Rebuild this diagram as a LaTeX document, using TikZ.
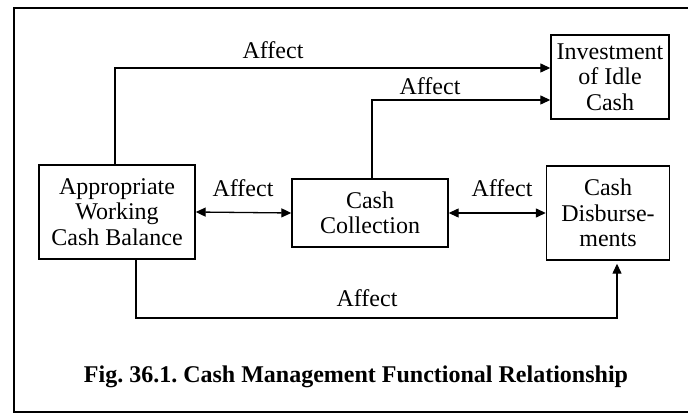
\documentclass[tikz,border=0pt]{standalone}
\usepackage{fontspec}
\setmainfont{Liberation Serif}
\usetikzlibrary{arrows.meta}
\frenchspacing
\begin{document}
\begin{tikzpicture}[x=1pt,y=-1pt,
  box/.style={draw,line width=1.4pt,align=center,inner sep=0pt,
    font=\fontsize{24}{25.5}\selectfont},
  lbl/.style={font=\fontsize{24}{25}\selectfont,inner sep=0pt},
  link/.style={line width=1.3pt,-{Triangle[length=10pt,width=9pt]}},
  both/.style={line width=1.3pt,{Triangle[length=10pt,width=9pt]}-{Triangle[length=10pt,width=9pt]}}]
  \useasboundingbox (0,0) rectangle (688,414);
  % outer frame, open to the right
  \draw[line width=2.4pt] (692,8) -- (14,8) -- (14,412) -- (692,412);

  % blocks
  \node[box,minimum width=156pt,minimum height=94pt] (acb) at (117,212)
    {Appropriate\\Working\\Cash Balance};
  \node[box,minimum width=156pt,minimum height=68pt] (cc) at (370,213)
    {Cash\\Collection};
  \node[box,minimum width=123pt,minimum height=94pt] (cd) at (608,213)
    {Cash\\Disburse-\\ments};
  \node[box,minimum width=118pt,minimum height=84pt] (inv) at (610,77)
    {Investment\\of Idle\\Cash};

  % connectors
  \draw[link] ([xshift=-2pt]acb.north) |- ([yshift=9pt]inv.west);
  \draw[link] ([xshift=2pt]cc.north) |- ([yshift=-23pt]inv.west);
  \draw[both] (acb.east) -- (cc.west);
  \draw[both] (cc.east) -- (cd.west);
  \coordinate (bl) at (136,318);
  \draw[link,shorten >=3pt] ([xshift=19pt]acb.south) |- (bl) -| ([xshift=9pt]cd.south);

  % labels
  \node[lbl] (a1) at (273,50) {Affect};
  \node[lbl] (a2) at (430,86) {Affect};
  \node[lbl] (a3) at (243,188) {Affect};
  \node[lbl] (a4) at (502,188) {Affect};
  \node[lbl] (a5) at (367,298) {Affect};

  \node[font=\fontsize{24}{26}\selectfont\bfseries,inner sep=0pt] (cap) at (356,377)
    {Fig. 36.1. Cash Management Functional Relationship};
\end{tikzpicture}
\end{document}
